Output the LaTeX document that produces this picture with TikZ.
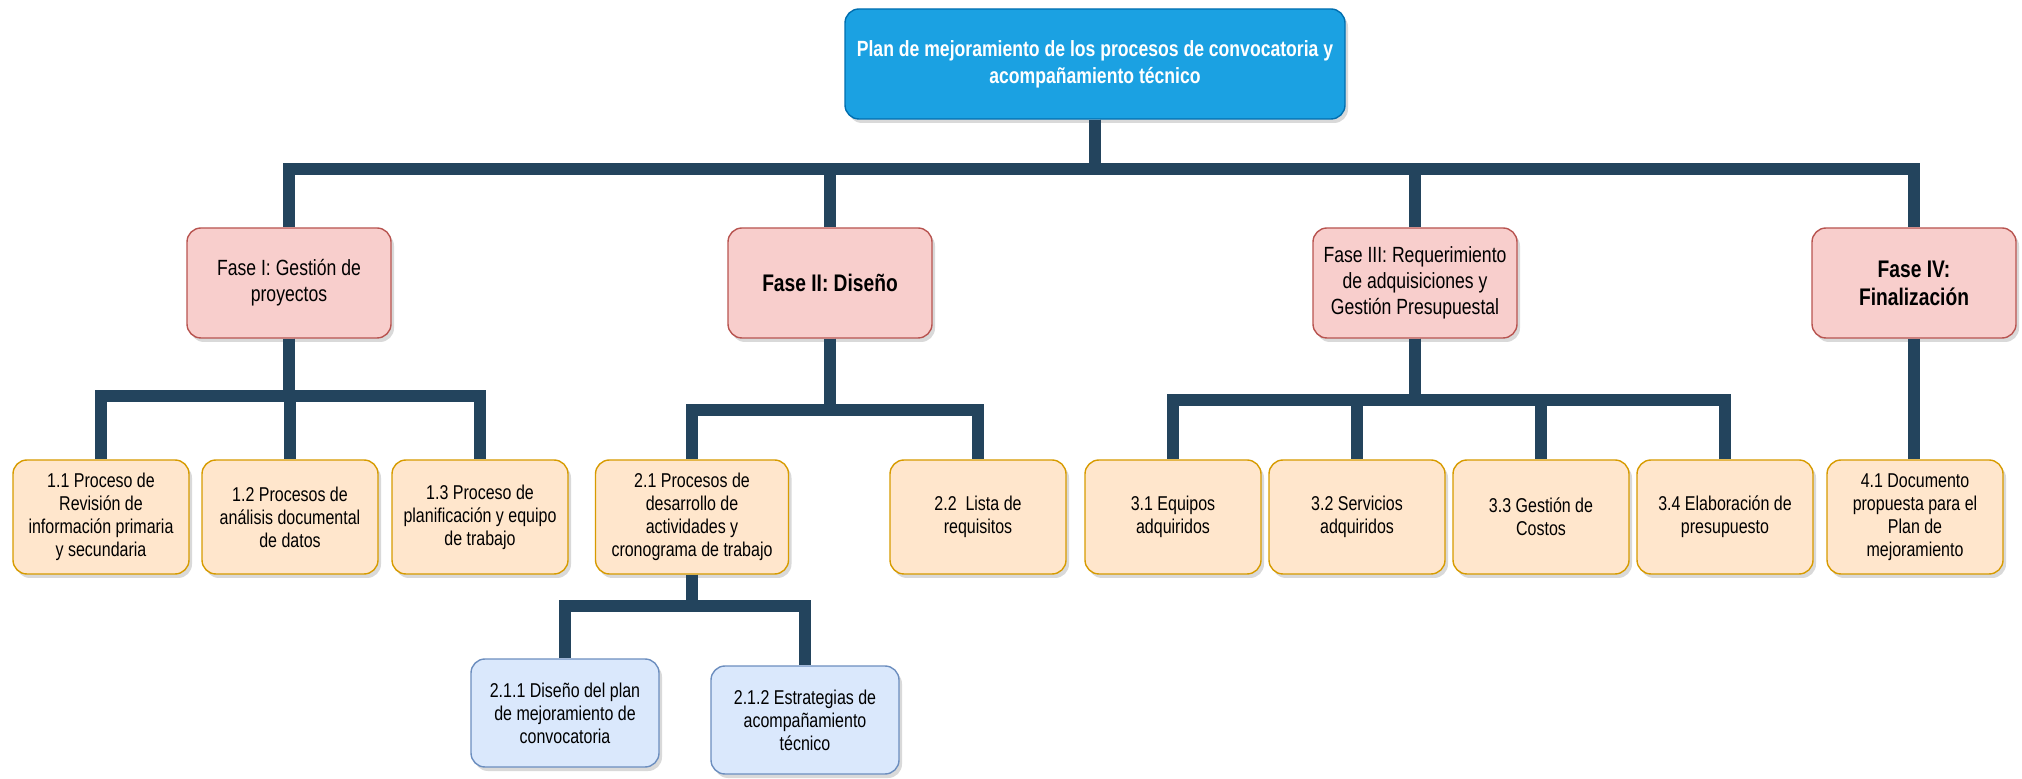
\documentclass[tikz,border=0pt]{standalone}
\usepackage{fontspec}
\setmainfont{Liberation Sans}[FakeStretch=0.8]
\usetikzlibrary{shadows}
\definecolor{rootfill}{HTML}{1BA1E2}
\definecolor{rootline}{HTML}{006EAF}
\definecolor{fasefill}{HTML}{F8CECC}
\definecolor{faseline}{HTML}{B85450}
\definecolor{tareafill}{HTML}{FFE6CC}
\definecolor{tarealine}{HTML}{D79B00}
\definecolor{subfill}{HTML}{DAE8FC}
\definecolor{subline}{HTML}{6C8EBF}
\definecolor{linkblue}{HTML}{23445D}
\tikzset{
box/.style={draw, rounded corners=7pt, line width=0.7pt, align=center, inner sep=2pt,
  drop shadow={shadow xshift=1.5pt, shadow yshift=-2pt, opacity=0.3}},
rootbox/.style={box, fill=rootfill, draw=rootline, text=white,
  font=\bfseries\fontsize{11}{13.5}\selectfont, minimum width=250pt, minimum height=55pt},
fase/.style={box, fill=fasefill, draw=faseline,
  font=\fontsize{11}{13}\selectfont, minimum width=102pt, minimum height=55pt},
fasebold/.style={fase, font=\bfseries\fontsize{12}{14}\selectfont},
tarea/.style={box, fill=tareafill, draw=tarealine,
  font=\fontsize{10}{11.5}\selectfont, minimum width=88pt, minimum height=57pt},
subtarea/.style={box, fill=subfill, draw=subline,
  font=\fontsize{10}{11.5}\selectfont, minimum width=94pt, minimum height=54pt},
link/.style={draw=linkblue, line width=6pt, line join=miter}
}

\begin{document}
\begin{tikzpicture}[x=0.5pt,y=-0.5pt]
\useasboundingbox (0,0) rectangle (2022,779);
% root
\node[rootbox] (plan) at (1095,64) {Plan de mejoramiento de los procesos de convocatoria y\\acompañamiento técnico};
% fases
\node[fase] (f1) at (289,283) {Fase I: Gestión de\\proyectos};
\node[fasebold] (f2) at (830,283) {Fase II: Diseño};
\node[fase] (f3) at (1415,283) {Fase III: Requerimiento\\de adquisiciones y\\Gestión Presupuestal};
\node[fasebold] (f4) at (1914,283) {Fase IV:\\Finalización};
% tareas
\node[tarea] (t11) at (101,517) {1.1 Proceso de\\Revisión de\\información primaria\\y secundaria};
\node[tarea] (t12) at (290,517) {1.2 Procesos de\\análisis documental\\de datos};
\node[tarea] (t13) at (480,517) {1.3 Proceso de\\planificación y equipo\\de trabajo};
\node[tarea, minimum width=96.5pt] (t21) at (692,517) {2.1 Procesos de\\desarrollo de\\actividades y\\cronograma de trabajo};
\node[tarea] (t22) at (978,517) {2.2~~Lista de\\requisitos};
\node[tarea] (t31) at (1173,517) {3.1 Equipos\\adquiridos};
\node[tarea] (t32) at (1357,517) {3.2 Servicios\\adquiridos};
\node[tarea] (t33) at (1541,517) {3.3 Gestión de\\Costos};
\node[tarea] (t34) at (1725,517) {3.4 Elaboración de\\presupuesto};
\node[tarea] (t41) at (1915,517) {4.1 Documento\\propuesta para el\\Plan de\\mejoramiento};
% subtareas
\node[subtarea] (s211) at (565,713) {2.1.1 Diseño del plan\\de mejoramiento de\\convocatoria};
\node[subtarea] (s212) at (805,720) {2.1.2 Estrategias de\\acompañamiento\\técnico};
% bars
\coordinate (bar0) at (0,169);
\coordinate (bar1) at (0,396);
\coordinate (bar2) at (0,410);
\coordinate (bar3) at (0,400);
\coordinate (bar21) at (0,606);
% connectors
\draw[link] (plan.south) -- (plan.south |- bar0) -| (f1.north);
\draw[link] (plan.south) -- (plan.south |- bar0) -| (f2.north);
\draw[link] (plan.south) -- (plan.south |- bar0) -| (f3.north);
\draw[link] (plan.south) -- (plan.south |- bar0) -| (f4.north);
\draw[link] (f1.south) -- (f1.south |- bar1) -| (t11.north);
\draw[link] (f1.south) -- (f1.south |- bar1) -| (t12.north);
\draw[link] (f1.south) -- (f1.south |- bar1) -| (t13.north);
\draw[link] (f2.south) -- (f2.south |- bar2) -| (t21.north);
\draw[link] (f2.south) -- (f2.south |- bar2) -| (t22.north);
\draw[link] (f3.south) -- (f3.south |- bar3) -| (t31.north);
\draw[link] (f3.south) -- (f3.south |- bar3) -| (t32.north);
\draw[link] (f3.south) -- (f3.south |- bar3) -| (t33.north);
\draw[link] (f3.south) -- (f3.south |- bar3) -| (t34.north);
\draw[link] (f4.south) -- (f4.south |- t41.north);
\draw[link] (t21.south) -- (t21.south |- bar21) -| (s211.north);
\draw[link] (t21.south) -- (t21.south |- bar21) -| (s212.north);
\end{tikzpicture}
\end{document}
